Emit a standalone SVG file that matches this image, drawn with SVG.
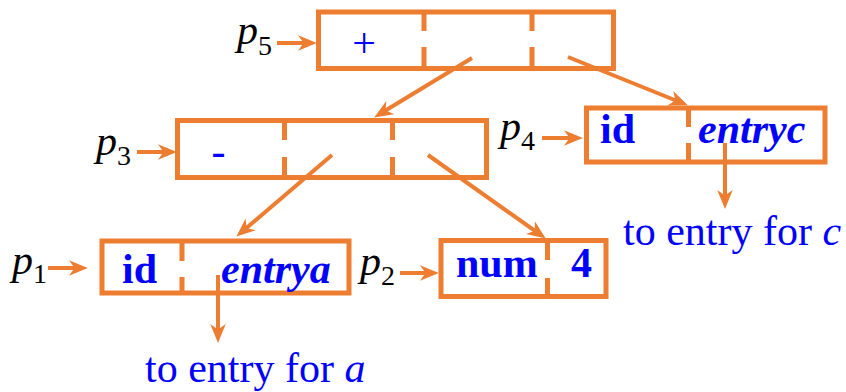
<svg xmlns="http://www.w3.org/2000/svg" width="846" height="392" viewBox="0 0 846 392">
<defs>
<style>
.box{fill:none;stroke:#ED7D31;stroke-width:5}
.div{stroke:#ED7D31;stroke-width:5}
.ln{stroke:#ED7D31;stroke-width:4;fill:none;marker-end:url(#ah)}
text{font-family:'Liberation Serif','Times New Roman',Tinos,'DejaVu Serif',serif}
.fld{font-size:42px;font-weight:bold;fill:#0000FF}
.fi{font-style:italic}
.op{font-size:42px;fill:#0000FF}
.lab{font-size:42px;fill:#000}
.sub{font-size:28px;font-style:normal}
.note{font-size:42px;fill:#0000FF}
</style>
<marker id="ah" markerUnits="userSpaceOnUse" markerWidth="20" markerHeight="16" viewBox="0 0 18 14" refX="9" refY="7" orient="auto">
<path d="M0,0 L17,7 L0,14 L5,7 z" fill="#ED7D31"/>
</marker>
</defs>

<g id="node-p5">
<rect class="box" x="318.5" y="12" width="295" height="56.5"/>
<path class="div" d="M424,12V31M424,47V68.5M532,12V31M532,47V68.5"/>
<text class="op" x="364" y="57" text-anchor="middle">+</text>
</g>

<g id="node-p3">
<rect class="box" x="177.5" y="120.5" width="309" height="57"/>
<path class="div" d="M284.5,120.5V140M284.5,157V177.5M392.5,120.5V140M392.5,157V177.5"/>
<text class="op" x="218.5" y="165" text-anchor="middle">-</text>
</g>

<g id="node-p4">
<rect class="box" x="586.5" y="108" width="238.5" height="54"/>
<path class="div" d="M688.5,108V127M688.5,143V162"/>
<text class="fld" x="600" y="143">id</text>
<text class="fld fi" x="698" y="143">entryc</text>
</g>

<g id="node-p1">
<rect class="box" x="102" y="241" width="247" height="52"/>
<path class="div" d="M182,241V261M182,277V293"/>
<text class="fld" x="122" y="283">id</text>
<text class="fld fi" x="221" y="283">entrya</text>
</g>

<g id="node-p2">
<rect class="box" x="441" y="240.5" width="165" height="56"/>
<path class="div" d="M547.5,240.5V260M547.5,278V296.5"/>
<text class="fld" x="456" y="277">num</text>
<text class="fld" x="571" y="277">4</text>
</g>

<g id="labels">
<text class="lab" x="237" y="44"><tspan font-style="italic">p</tspan><tspan class="sub" dy="11">5</tspan></text>
<text class="lab" x="96" y="155"><tspan font-style="italic">p</tspan><tspan class="sub" dy="10">3</tspan></text>
<text class="lab" x="500" y="140"><tspan font-style="italic">p</tspan><tspan class="sub" dy="10">4</tspan></text>
<text class="lab" x="12" y="274"><tspan font-style="italic">p</tspan><tspan class="sub" dy="9">1</tspan></text>
<text class="lab" x="360" y="275"><tspan font-style="italic">p</tspan><tspan class="sub" dy="10">2</tspan></text>
<text class="note" x="623" y="245">to entry for <tspan font-style="italic">c</tspan></text>
<text class="note" x="145" y="382">to entry for <tspan font-style="italic">a</tspan></text>
</g>

<g id="connectors">
<line class="ln" x1="277" y1="43" x2="308" y2="43"/>
<line class="ln" x1="137" y1="152" x2="168" y2="152"/>
<line class="ln" x1="542" y1="138" x2="574" y2="138"/>
<line class="ln" x1="48" y1="268" x2="79" y2="268"/>
<line class="ln" x1="400" y1="273" x2="430" y2="273"/>
<line class="ln" x1="472" y1="58" x2="381.8" y2="112.8"/>
<line class="ln" x1="568" y1="57" x2="679.6" y2="102"/>
<line class="ln" x1="332" y1="155" x2="243.1" y2="230.8"/>
<line class="ln" x1="428" y1="155" x2="538.5" y2="233.4"/>
<line class="ln" x1="725" y1="143" x2="725" y2="200"/>
<line class="ln" x1="218" y1="275" x2="218" y2="334"/>
</g>
</svg>
